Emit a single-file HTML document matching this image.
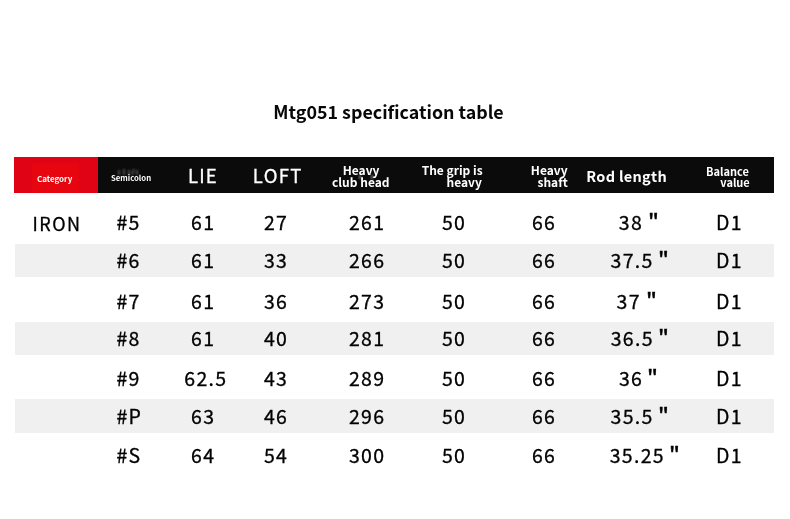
<!DOCTYPE html>
<html lang="en">
<head>
<meta charset="utf-8">
<title>Mtg051 specification table</title>
<style>
html,body{margin:0;padding:0;background:#fff;}
body{width:790px;height:519px;position:relative;overflow:hidden;font-family:"Noto Sans CJK SC","Liberation Sans",sans-serif;color:#111;}
.title{position:absolute;left:0;width:777px;top:98.4px;text-align:center;font-weight:700;font-size:17.85px;line-height:26px;color:#080808;white-space:nowrap;}
.hdr{position:absolute;left:14px;top:157px;width:760px;height:35.8px;background:#0b0b0b;}
.hdr .red{position:absolute;left:0;top:0;width:84.2px;height:100%;background:#df0315;overflow:hidden;}
.hdr .red i{position:absolute;left:18px;top:6px;width:47px;bottom:0;background:#e7060f;filter:blur(.8px);}
.gh{position:absolute;background:#fff;opacity:.26;width:2px;filter:blur(.8px);}
.h{position:absolute;color:#fff;white-space:nowrap;line-height:20px;font-weight:700;}
.band{position:absolute;left:14.5px;width:759.5px;background:#f0f0f0;}
.d,.q{position:absolute;white-space:nowrap;color:#000;-webkit-text-stroke:0.3px #000;}
.d{font-size:19.5px;line-height:28px;letter-spacing:1.3px;}
.q{font-size:20.5px;line-height:28px;-webkit-text-stroke:0.55px #000;transform:scaleX(1.12);transform-origin:0 0;}
.i{font-size:18px;letter-spacing:1.5px;}
</style>
</head>
<body>
<div class="title">Mtg051 specification table</div>
<div class="hdr"><div class="red"><i></i></div></div>
<div class="gh" style="left:117.5px;top:170px;height:5px"></div><div class="gh" style="left:122.5px;top:169px;height:6px"></div><div class="gh" style="left:127.5px;top:170px;height:5px"></div><div class="gh" style="left:132px;top:169px;height:6px;transform:skewX(-12deg)"></div><div class="gh" style="left:135.5px;top:169.5px;height:5px"></div>
<div class="gh" style="left:359.2px;top:175px;height:4px;width:1.6px;opacity:.45"></div><div class="gh" style="left:371.2px;top:174.6px;height:4.4px;width:1.8px;opacity:.45"></div>
<span id="hcat" class="h" style="left:36.90px;top:168.81px;font-size:8px;">Category</span>
<span id="hsem" class="h" style="left:111.00px;top:167.92px;font-size:7.75px;">Semicolon</span>
<span id="hlie" class="h" style="left:188.00px;top:164.93px;font-size:18.5px;font-weight:400;letter-spacing:1.1px;-webkit-text-stroke:0.3px #fff;">LIE</span>
<span id="hloft" class="h" style="left:252.80px;top:164.93px;font-size:18.5px;font-weight:400;letter-spacing:1.35px;-webkit-text-stroke:0.3px #fff;">LOFT</span>
<span id="hhv1" class="h" style="left:342.70px;top:159.77px;font-size:12px;">Heavy</span>
<span id="hhv2" class="h" style="left:332.00px;top:171.77px;font-size:12px;">club head</span>
<span id="hgr1" class="h" style="left:421.70px;top:159.77px;font-size:12px;">The grip is</span>
<span id="hgr2" class="h" style="left:446.50px;top:171.77px;font-size:12px;">heavy</span>
<span id="hsh1" class="h" style="left:530.80px;top:159.77px;font-size:12px;">Heavy</span>
<span id="hsh2" class="h" style="left:537.50px;top:171.77px;font-size:12px;">shaft</span>
<span id="hrod" class="h" style="left:586.30px;top:165.58px;font-size:14.5px;letter-spacing:0.3px;">Rod length</span>
<span id="hba1" class="h" style="left:706.00px;top:160.50px;font-size:11px;">Balance</span>
<span id="hba2" class="h" style="left:720.30px;top:171.80px;font-size:11px;">value</span>

<div class="band" style="top:244px;height:33px;"></div>
<div class="band" style="top:322px;height:33px;"></div>
<div class="band" style="top:399px;height:34px;"></div>

<span id="r0c1" class="d i" style="left:32.50px;top:209.00px">IRON</span>
<span id="r0c2" class="d" style="left:116.50px;top:208.00px">#5</span>
<span id="r0c3" class="d" style="left:191.10px;top:208.00px">61</span>
<span id="r0c4" class="d" style="left:264.00px;top:208.00px">27</span>
<span id="r0c5" class="d" style="left:348.90px;top:208.00px">261</span>
<span id="r0c6" class="d" style="left:441.90px;top:208.00px">50</span>
<span id="r0c7" class="d" style="left:532.00px;top:208.00px">66</span>
<span id="r0c8" class="d" style="left:618.80px;top:208.00px">38</span>
<span id="r0q" class="q" style="left:647.70px;top:206.00px">&quot;</span>
<span id="r0c9" class="d" style="left:716.00px;top:208.00px">D1</span>
<span id="r1c2" class="d" style="left:116.50px;top:246.00px">#6</span>
<span id="r1c3" class="d" style="left:191.10px;top:246.00px">61</span>
<span id="r1c4" class="d" style="left:264.00px;top:246.00px">33</span>
<span id="r1c5" class="d" style="left:348.90px;top:246.00px">266</span>
<span id="r1c6" class="d" style="left:441.90px;top:246.00px">50</span>
<span id="r1c7" class="d" style="left:532.00px;top:246.00px">66</span>
<span id="r1c8" class="d" style="left:610.60px;top:246.00px">37.5</span>
<span id="r1q" class="q" style="left:658.30px;top:244.00px">&quot;</span>
<span id="r1c9" class="d" style="left:716.00px;top:246.00px">D1</span>
<span id="r2c2" class="d" style="left:116.50px;top:287.00px">#7</span>
<span id="r2c3" class="d" style="left:191.10px;top:287.00px">61</span>
<span id="r2c4" class="d" style="left:264.00px;top:287.00px">36</span>
<span id="r2c5" class="d" style="left:348.90px;top:287.00px">273</span>
<span id="r2c6" class="d" style="left:441.90px;top:287.00px">50</span>
<span id="r2c7" class="d" style="left:532.00px;top:287.00px">66</span>
<span id="r2c8" class="d" style="left:616.60px;top:287.00px">37</span>
<span id="r2q" class="q" style="left:645.50px;top:285.00px">&quot;</span>
<span id="r2c9" class="d" style="left:716.00px;top:287.00px">D1</span>
<span id="r3c2" class="d" style="left:116.50px;top:324.00px">#8</span>
<span id="r3c3" class="d" style="left:191.10px;top:324.00px">61</span>
<span id="r3c4" class="d" style="left:264.00px;top:324.00px">40</span>
<span id="r3c5" class="d" style="left:348.90px;top:324.00px">281</span>
<span id="r3c6" class="d" style="left:441.90px;top:324.00px">50</span>
<span id="r3c7" class="d" style="left:532.00px;top:324.00px">66</span>
<span id="r3c8" class="d" style="left:610.70px;top:324.00px">36.5</span>
<span id="r3q" class="q" style="left:658.30px;top:322.00px">&quot;</span>
<span id="r3c9" class="d" style="left:716.00px;top:324.00px">D1</span>
<span id="r4c2" class="d" style="left:116.50px;top:364.00px">#9</span>
<span id="r4c3" class="d" style="left:184.30px;top:364.00px">62.5</span>
<span id="r4c4" class="d" style="left:264.00px;top:364.00px">43</span>
<span id="r4c5" class="d" style="left:348.90px;top:364.00px">289</span>
<span id="r4c6" class="d" style="left:441.90px;top:364.00px">50</span>
<span id="r4c7" class="d" style="left:532.00px;top:364.00px">66</span>
<span id="r4c8" class="d" style="left:619.00px;top:364.00px">36</span>
<span id="r4q" class="q" style="left:647.40px;top:362.00px">&quot;</span>
<span id="r4c9" class="d" style="left:716.00px;top:364.00px">D1</span>
<span id="r5c2" class="d" style="left:116.50px;top:402.00px">#P</span>
<span id="r5c3" class="d" style="left:191.10px;top:402.00px">63</span>
<span id="r5c4" class="d" style="left:264.00px;top:402.00px">46</span>
<span id="r5c5" class="d" style="left:348.90px;top:402.00px">296</span>
<span id="r5c6" class="d" style="left:441.90px;top:402.00px">50</span>
<span id="r5c7" class="d" style="left:532.00px;top:402.00px">66</span>
<span id="r5c8" class="d" style="left:610.60px;top:402.00px">35.5</span>
<span id="r5q" class="q" style="left:658.20px;top:400.00px">&quot;</span>
<span id="r5c9" class="d" style="left:716.00px;top:402.00px">D1</span>
<span id="r6c2" class="d" style="left:116.50px;top:441.00px">#S</span>
<span id="r6c3" class="d" style="left:191.10px;top:441.00px">64</span>
<span id="r6c4" class="d" style="left:264.00px;top:441.00px">54</span>
<span id="r6c5" class="d" style="left:348.90px;top:441.00px">300</span>
<span id="r6c6" class="d" style="left:441.90px;top:441.00px">50</span>
<span id="r6c7" class="d" style="left:532.00px;top:441.00px">66</span>
<span id="r6c8" class="d" style="left:609.70px;top:441.00px">35.25</span>
<span id="r6q" class="q" style="left:668.60px;top:439.00px">&quot;</span>
<span id="r6c9" class="d" style="left:716.00px;top:441.00px">D1</span>
</body>
</html>
